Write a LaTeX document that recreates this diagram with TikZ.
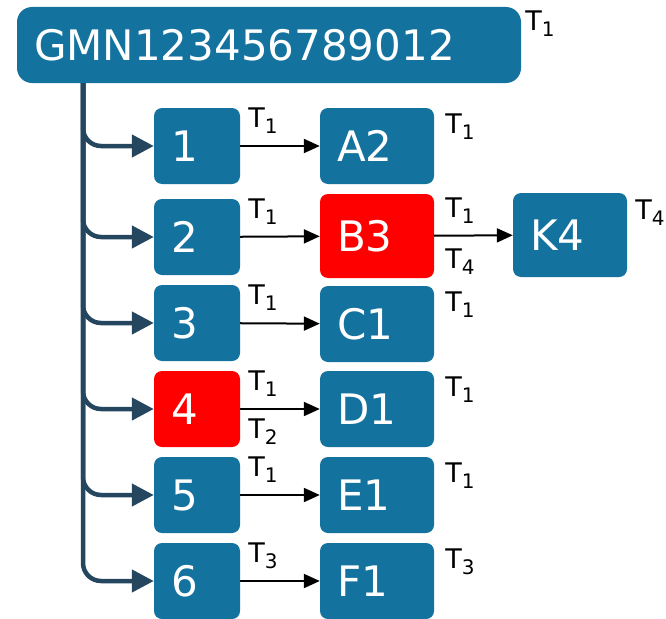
\documentclass[tikz,border=0pt]{standalone}
\usepackage{fontspec}
\setmainfont{DejaVu Sans}
\usetikzlibrary{positioning}
\usetikzlibrary{arrows.meta}
\definecolor{boxblue}{RGB}{19,114,158}
\definecolor{trunkblue}{RGB}{36,70,95}
\newcommand{\tsub}[1]{T\raisebox{-6pt}{\fontsize{20}{20}\selectfont #1}}
\tikzset{
    mynode/.style = {rectangle, rounded corners=8pt, fill=boxblue, text=white, align=left, inner xsep=17pt, inner ysep=0pt, minimum height=76pt, font=\fontsize{42}{42}\selectfont},
    mynoder/.style = {mynode, fill=red, minimum height=84pt},
    tlab/.style = {inner sep=0pt, font=\fontsize{27}{27}\selectfont},
    edgen/.style = {-{Triangle[length=16pt,width=14pt]}, line width=2pt, black},
    edgeb/.style = {-{Triangle[length=22pt,width=22pt]}, line width=4.5pt, trunkblue, rounded corners=18pt}
}
\begin{document}
\begin{tikzpicture}[x=1pt,y=-1pt]
\useasboundingbox (0,0) rectangle (666,618);
\node[mynode, rounded corners=15pt, text width=470pt] at (269,45) (top) {GMN123456789012};
\coordinate (trunk) at (83,83);
%
\node[mynode, text width=52pt] at (197,146) (n1) {1};
\node[mynode, text width=52pt] at (197,237) (n2) {2};
\node[mynode, text width=52pt] at (197,323) (n3) {3};
\node[mynoder, minimum height=76pt, text width=52pt] at (197,409) (n4) {4};
\node[mynode, text width=52pt] at (197,495) (n5) {5};
\node[mynode, text width=52pt] at (197,581) (n6) {6};
%
\node[mynode, text width=80pt] at (377,146) (a2) {A2};
\node[mynoder, text width=80pt] at (377,236) (b3) {B3};
\node[mynode, text width=80pt] at (377,324) (c1) {C1};
\node[mynode, text width=80pt] at (377,409) (d1) {D1};
\node[mynode, text width=80pt] at (377,495) (e1) {E1};
\node[mynode, text width=80pt] at (377,581) (f1) {F1};
\node[mynode, minimum height=84pt, text width=80pt] at (570,235) (k4) {K4};
%
\foreach \n in {n1,n2,n3,n4,n5,n6}
  \draw[edgeb] (trunk) |- (\n.west);
%
\draw[edgen] (n1) -- (a2);
\draw[edgen] (n2) -- (b3);
\draw[edgen] (n3) -- (c1);
\draw[edgen] (n4) -- (d1);
\draw[edgen] (n5) -- (e1);
\draw[edgen] (n6) -- (f1);
\draw[edgen] (b3) -- (k4);
%
\node[tlab, anchor=south west] at ([xshift=8pt,yshift=12pt]n1.east) (l1) {\tsub{1}};
\node[tlab, anchor=south west] at ([xshift=8pt,yshift=12pt]n2.east) (l2) {\tsub{1}};
\node[tlab, anchor=south west] at ([xshift=8pt,yshift=12pt]n3.east) (l3) {\tsub{1}};
\node[tlab, anchor=south west] at ([xshift=8pt,yshift=12pt]n4.east) (l4) {\tsub{1}};
\node[tlab, anchor=north west] at ([xshift=8pt,yshift=-10pt]n4.east) (l4b) {\tsub{2}};
\node[tlab, anchor=south west] at ([xshift=8pt,yshift=12pt]n5.east) (l5) {\tsub{1}};
\node[tlab, anchor=south west] at ([xshift=8pt,yshift=12pt]n6.east) (l6) {\tsub{3}};
\node[tlab, anchor=south west] at ([xshift=11pt,yshift=12pt]b3.east) (lb) {\tsub{1}};
\node[tlab, anchor=north west] at ([xshift=11pt,yshift=-13pt]b3.east) (lbb) {\tsub{4}};
%
\node[tlab, anchor=north west] at ([xshift=4pt,yshift=-4pt]top.north east) (rt) {\tsub{1}};
\node[tlab, anchor=north west] at ([xshift=11pt,yshift=-6pt]a2.north east) (ra) {\tsub{1}};
\node[tlab, anchor=north west] at ([xshift=11pt,yshift=-6pt]c1.north east) (rc) {\tsub{1}};
\node[tlab, anchor=north west] at ([xshift=11pt,yshift=-6pt]d1.north east) (rd) {\tsub{1}};
\node[tlab, anchor=north west] at ([xshift=11pt,yshift=-6pt]e1.north east) (re) {\tsub{1}};
\node[tlab, anchor=north west] at ([xshift=11pt,yshift=-6pt]f1.north east) (rf) {\tsub{3}};
\node[tlab, anchor=north west] at ([xshift=8pt,yshift=-7pt]k4.north east) (rk) {\tsub{4}};
\end{tikzpicture}
\end{document}
